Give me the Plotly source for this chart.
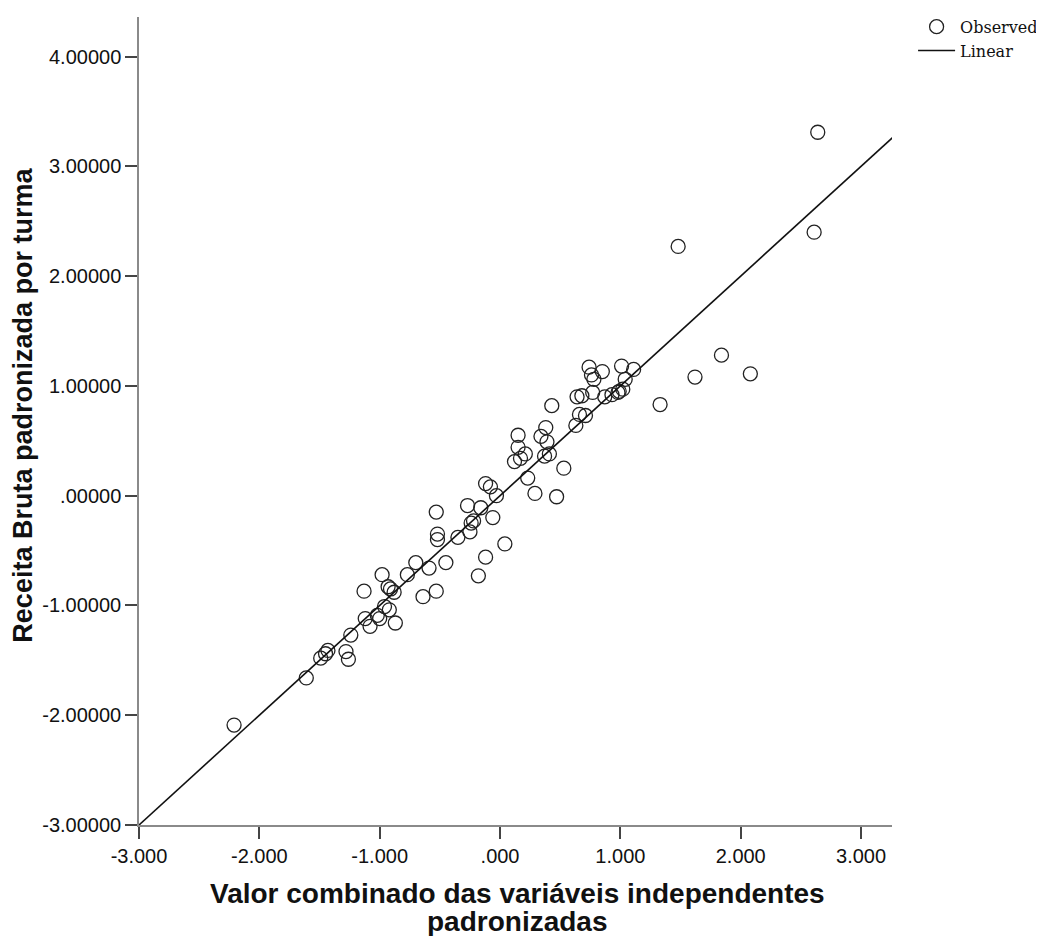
import plotly.graph_objects as go

# Observed points (x: combined standardized predictors, y: standardized revenue)
obs_x = [-2.21, -1.61, -1.49, -1.45, -1.43, -1.28, -1.26, -1.24, -1.13, -1.12,
         -1.08, -1.02, -1.00, -0.98, -0.96, -0.93, -0.91, -0.92, -0.88, -0.87,
         -0.77, -0.70, -0.64, -0.59, -0.53, -0.53, -0.52, -0.52, -0.45, -0.35,
         -0.27, -0.25, -0.24, -0.22, -0.18, -0.16, -0.12, -0.12, -0.08, -0.06,
         -0.03, 0.04, 0.12, 0.15, 0.15, 0.17, 0.21, 0.23, 0.29, 0.34,
         0.37, 0.39, 0.38, 0.41, 0.43, 0.47, 0.53, 0.63, 0.64, 0.66,
         0.68, 0.71, 0.74, 0.76, 0.77, 0.78, 0.85, 0.87, 0.93, 0.98,
         0.99, 1.01, 1.02, 1.04, 1.11, 1.33, 1.48, 1.62, 1.84, 2.08,
         2.61, 2.64]
obs_y = [-2.09, -1.66, -1.48, -1.44, -1.41, -1.42, -1.49, -1.27, -0.87, -1.12,
         -1.19, -1.09, -1.12, -0.72, -1.01, -0.83, -0.85, -1.04, -0.88, -1.16,
         -0.72, -0.61, -0.92, -0.66, -0.87, -0.15, -0.35, -0.40, -0.61, -0.38,
         -0.09, -0.33, -0.25, -0.23, -0.73, -0.11, 0.11, -0.56, 0.08, -0.20,
         0.00, -0.44, 0.31, 0.55, 0.44, 0.34, 0.38, 0.16, 0.02, 0.54,
         0.36, 0.49, 0.62, 0.38, 0.82, -0.01, 0.25, 0.64, 0.90, 0.74,
         0.91, 0.73, 1.17, 1.10, 0.94, 1.06, 1.13, 0.90, 0.92, 0.94,
         0.95, 1.18, 0.97, 1.06, 1.15, 0.83, 2.27, 1.08, 1.28, 1.11,
         2.40, 3.31]

# Linear fit
fit_slope = 1.0
fit_intercept = 0.0
fit_x = [-3.0, 3.31]
fit_y = [fit_slope * v + fit_intercept for v in fit_x]

x_tickvals = [-3, -2, -1, 0, 1, 2, 3]
x_ticktext = ["-3.000", "-2.000", "-1.000", ".000", "1.000", "2.000", "3.000"]
y_tickvals = [-3, -2, -1, 0, 1, 2, 3, 4]
y_ticktext = ["-3.00000", "-2.00000", "-1.00000", ".00000", "1.00000",
              "2.00000", "3.00000", "4.00000"]

x_title_lines = ["Valor combinado das variáveis independentes", "padronizadas"]
y_title = "Receita Bruta padronizada por turma"

X_TITLE_FONT = dict(family="Liberation Sans, Arial", size=28, color="#111")
Y_TITLE_FONT = dict(family="Liberation Sans, Arial", size=27, color="#111")
TICK_FONT = dict(family="Liberation Sans, Arial", size=20, color="#111")

fig = go.Figure()
fig.add_trace(go.Scatter(
    x=obs_x, y=obs_y, mode="markers", name="Observed",
    marker=dict(symbol="circle-open", size=14, color="#222222",
                line=dict(width=1.3, color="#222222")),
))
fig.add_trace(go.Scatter(
    x=fit_x, y=fit_y, mode="lines", name="Linear",
    line=dict(color="#111111", width=1.6),
))

axis_common = dict(
    showgrid=False, zeroline=False, showline=True, linecolor="#8a8a8a",
    linewidth=1.5, ticks="outside", ticklen=12, tickcolor="#444444",
    tickwidth=1.5, tickfont=TICK_FONT,
)

fig.update_layout(
    width=1044, height=936,
    margin=dict(l=131, r=160, t=2, b=119),
    plot_bgcolor="white", paper_bgcolor="white",
    xaxis=dict(range=[-3.0, 3.257], tickmode="array", tickvals=x_tickvals,
               ticktext=x_ticktext, **axis_common),
    yaxis=dict(range=[-3.0, 4.36], tickmode="array", tickvals=y_tickvals,
               ticktext=y_ticktext, **axis_common),
    legend=dict(x=1.028, y=1.009, xanchor="left", yanchor="top",
                font=dict(family="DejaVu Serif", size=16, color="#111"),
                tracegroupgap=0, itemwidth=37, bgcolor="rgba(0,0,0,0)"),
    showlegend=True,
)

fig.add_annotation(text="<b>%s</b>" % x_title_lines[0], xref="paper", yref="paper",
                   x=0.502, y=0, xanchor="center", yanchor="middle", yshift=-68,
                   showarrow=False, font=X_TITLE_FONT)
fig.add_annotation(text="<b>%s</b>" % x_title_lines[1], xref="paper", yref="paper",
                   x=0.502, y=0, xanchor="center", yanchor="middle", yshift=-96,
                   showarrow=False, font=X_TITLE_FONT)
fig.add_annotation(text="<b>%s</b>" % y_title, xref="paper", yref="paper",
                   x=0, y=0.519, xanchor="center", yanchor="middle", xshift=-116,
                   textangle=-90, showarrow=False, font=Y_TITLE_FONT)

fig.write_html("out.html")
